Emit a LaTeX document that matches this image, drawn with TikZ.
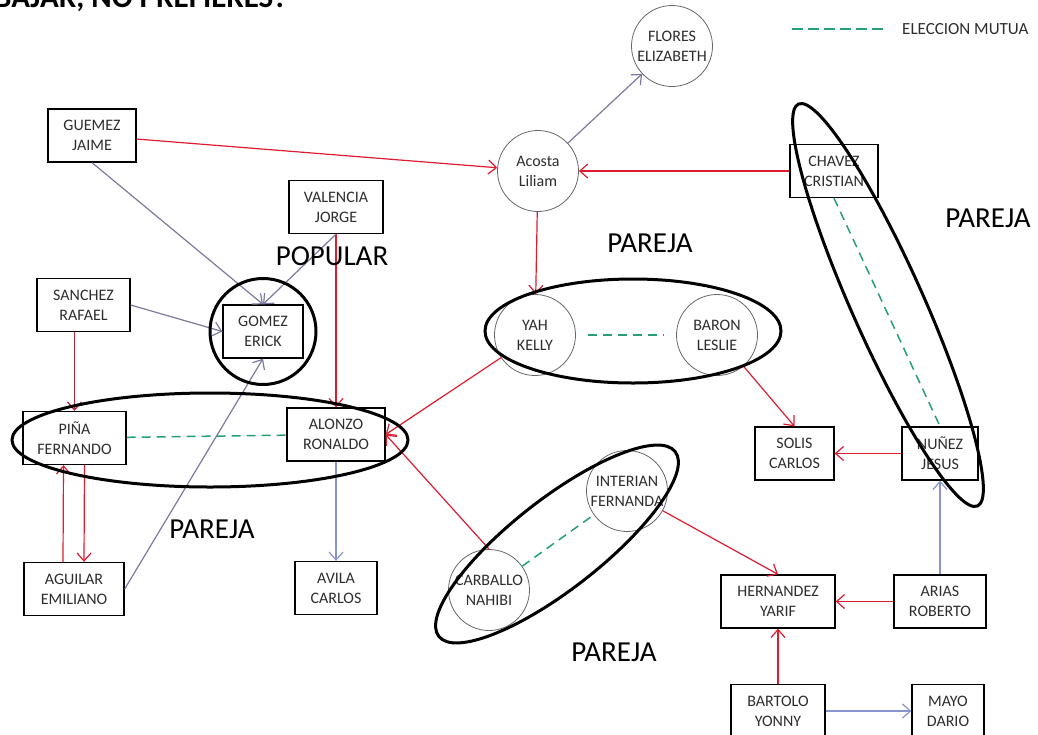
\documentclass[tikz,border=0pt]{standalone}
\usepackage{fontspec}
\setmainfont{Carlito}
\usetikzlibrary{arrows.meta}
\definecolor{rojo}{RGB}{222,28,48}
\definecolor{rojooscuro}{RGB}{180,38,58}
\definecolor{grisazul}{RGB}{122,122,158}
\definecolor{azul}{RGB}{135,148,205}
\definecolor{verde}{RGB}{38,158,118}
\definecolor{texto}{RGB}{45,45,45}
\tikzstyle{caja}=[rectangle,draw=black,line width=1.3pt,minimum height=53pt,inner sep=0pt,align=center,text=texto,font=\fontsize{16}{20}\selectfont]
\tikzstyle{circulo}=[circle,draw=black!60,line width=0.8pt,minimum size=81pt,inner sep=0pt,align=center,text=texto,font=\fontsize{16}{20}\selectfont]
\tikzstyle{flecha}=[draw,line width=1.2pt,-{Straight Barb[length=8pt,width=14pt]}]
\tikzstyle{roja}=[flecha,rojo]
\tikzstyle{gris}=[flecha,grisazul]
\tikzstyle{azulada}=[flecha,azul]
\tikzstyle{mutua}=[draw,verde,line width=1.5pt,dash pattern=on 9pt off 6pt]
\tikzstyle{pareja}=[draw,line width=3pt]
\tikzstyle{etiqueta}=[anchor=base,inner sep=0pt,font=\fontsize{29}{34}\selectfont]

\begin{document}
\begin{tikzpicture}[x=1pt,y=-1pt]
	\useasboundingbox (0,0) rectangle (1038,734);
	\clip (0,0) rectangle (1038,734);

	% title, cut by the top edge
	\node[anchor=base west,inner sep=0pt,font=\bfseries\fontsize{31}{36}\selectfont] (titulo) at (-6,7.5) {BAJAR, NO PREFIERES?};

	% legend
	\coordinate (leyA) at (792,29);
	\coordinate (leyB) at (885,29);
	\path[mutua,line width=2pt,dash pattern=on 11pt off 5pt] (leyA) -- (leyB);
	\node[anchor=west,inner sep=0pt,text=texto,font=\fontsize{17}{20}\selectfont] (leyenda) at (902,29) {ELECCION MUTUA};

	% First we draw the students in boxes
	\foreach \pos/\name/\ancho/\texto in {{(92,135.5)/guemez/88/GUEMEZ\\JAIME}, {(336,207)/valencia/94/VALENCIA\\JORGE},
							{(83.5,305)/sanchez/93/SANCHEZ\\RAFAEL}, {(263,331.5)/gomez/80/GOMEZ\\ERICK},
							{(74.5,438)/pina/103/PIÑA\\FERNANDO}, {(336,434.5)/alonzo/98/ALONZO\\RONALDO},
							{(74,589)/aguilar/100/AGUILAR\\EMILIANO}, {(336,588)/avila/82/AVILA\\CARLOS},
							{(834,171)/chavez/88/CHAVEZ\\CRISTIAN}, {(794.5,453.5)/solis/79/SOLIS\\CARLOS},
							{(940,453.5)/nunez/76/NUÑEZ\\JESUS}, {(778,601.5)/hernandez/114/HERNANDEZ\\YARIF},
							{(940,601.5)/arias/92/ARIAS\\ROBERTO}, {(778,711)/bartolo/94/BARTOLO\\YONNY},
							{(948,711)/mayo/72/MAYO\\DARIO}}
	\node[caja,minimum width=\ancho pt] (\name) at \pos {\texto};

	% then the students in circles
	\foreach \pos/\name/\texto in {{(538,171)/acosta/Acosta\\Liliam}, {(672,46)/flores/FLORES\\ELIZABETH},
							{(535,335)/yah/YAH\\KELLY}, {(717,335)/baron/BARON\\LESLIE},
							{(627,491)/interian/INTERIAN\\FERNANDA}, {(489,590)/carballo/CARBALLO\\NAHIBI}}
	\node[circulo] (\name) at \pos {\texto};

	% Connect students with their choices
	\foreach \source/ \dest in {guemez/acosta, chavez/acosta, acosta/yah, valencia.south/alonzo.north,
							yah/alonzo.east, carballo.north/alonzo.east, baron/solis.north, nunez/solis,
							interian/hernandez.north, arias/hernandez, bartolo/hernandez}
	\path[roja] (\source) -- (\dest);

	\foreach \source/ \dest in {guemez.south/gomez.north, valencia.south/gomez.north, sanchez.east/gomez.west,
							aguilar.east/gomez.south, acosta/flores}
	\path[gris] (\source) -- (\dest);

	\foreach \source/ \dest in {alonzo/avila, arias/nunez, bartolo/mayo}
	\path[azulada] (\source) -- (\dest);

	\path[roja,rojooscuro] (pina.north |- sanchez.south) -- (pina.north);
	\path[roja] ([xshift=-11pt]aguilar.north) -- ([xshift=-11pt]pina.south);
	\path[roja] ([xshift=10pt]pina.south) -- ([xshift=10pt]aguilar.north);

	% mutual choices
	\path[mutua] (pina) -- (alonzo);
	\path[mutua,shorten <=12pt,shorten >=12pt] (yah) -- (baron);
	\path[mutua] (carballo) -- (interian);
	\path[mutua] (chavez.south) -- (nunez.north);

	% groups
	\draw[pareja] (gomez) circle [radius=53pt];
	\draw[pareja] (210,440) ellipse [x radius=198pt, y radius=47pt];
	\draw[pareja] (633,331) ellipse [x radius=148pt, y radius=52pt];
	\draw[pareja,rotate around={-66:(888,305)}] (888,305) ellipse [x radius=220pt, y radius=36pt];
	\draw[pareja,rotate around={38:(557,544)}] (557,544) ellipse [x radius=150pt, y radius=45pt];

	\node[etiqueta] (popular) at (332,265) {POPULAR};
	\foreach \pos/\name in {{(650,252)/parejaA}, {(988,227)/parejaB}, {(212,538)/parejaC}, {(614,661)/parejaD}}
	\node[etiqueta] (\name) at \pos {PAREJA};
\end{tikzpicture}
\end{document}
